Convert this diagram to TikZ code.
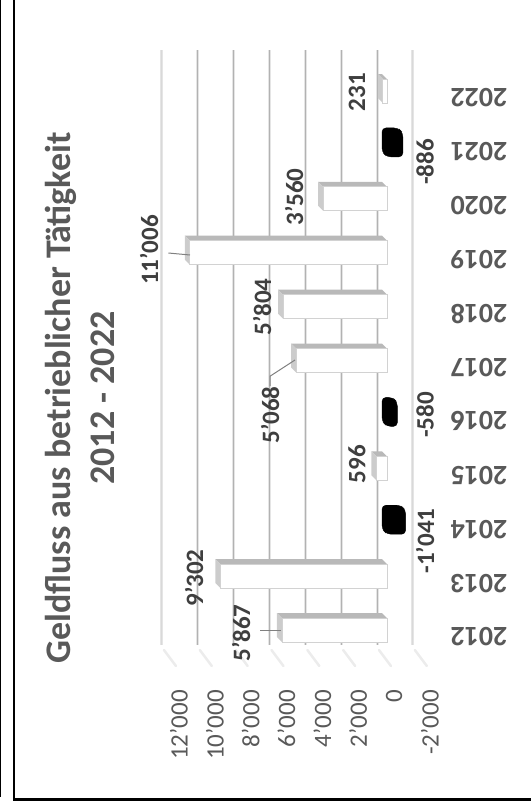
\documentclass[tikz,border=0pt]{standalone}
\usepackage{fontspec}
\setmainfont{Carlito}
\usepackage{xcolor}
\usepackage{tikz}

\definecolor{txtgray}{HTML}{595959}
\definecolor{valgray}{HTML}{3F3F3F}

\tikzset{
  titlelbl/.style={font=\fontsize{36}{44}\selectfont\bfseries, text=txtgray, rotate=90, align=center},
  yearlbl/.style={font=\fontsize{28}{30}\selectfont\bfseries, text=txtgray, rotate=180, inner sep=0pt},
  axislbl/.style={font=\fontsize{25}{27}\selectfont, text=txtgray, rotate=90, anchor=east, inner sep=0pt},
  vallbl/.style={font=\fontsize{25}{27}\selectfont\bfseries, text=valgray, rotate=90, inner sep=0pt},
  barfront/.style={fill=white, draw=gray!35, line width=0.8pt},
  barside/.style={fill=gray!55},
  barend/.style={fill=gray!40},
  negbar/.style={fill=black, draw=black, rounded corners=4pt},
  leader/.style={draw=gray, line width=1pt},
}

\begin{document}
\begin{tikzpicture}[x=1pt,y=-1pt]
				\useasboundingbox (0,0) rectangle (531,804);
				
				% 边框
				\draw[line width=1pt] (0.5,0) -- (0.5,797);
				\draw[line width=2.6pt] (14,0) -- (14,799.5) -- (531,799.5);
				
				% 标题
				\node[titlelbl] (title) at (80,398) {Geldfluss aus betrieblicher Tätigkeit\\2012 - 2022};
				
				% 网格线 und Achse
				\foreach \v/\t in {12/12'000,10/10'000,8/8'000,6/6'000,4/4'000,2/2'000,0/0,-2/-2'000} {
					\pgfmathsetmacro\xg{377-\v*17.92}
					\draw[gray!20, line width=3pt] (\xg,50) -- (\xg,645);
					\ifnum\v=12
					\draw[gray!30, line width=1pt] (\xg,50) -- (\xg,645);
					\else
					\ifnum\v=-2
					\draw[gray!30, line width=1pt] (\xg,50) -- (\xg,645);
					\else
					\draw[gray!60, line width=1pt] (\xg,50) -- (\xg,645);
					\fi
					\fi
					\draw[gray!15, line width=2.5pt, line cap=round] (\xg+2,650) -- (\xg+14,666);
					\node[axislbl] (ax\v) at (\xg+17,690) {\t};
				}
				
				% 柱
				\foreach \i/\v in {0/5867,1/9302,2/-1041,3/596,4/-580,5/5068,6/5804,7/11006,8/3560,9/-886,10/231} {
					\pgfmathsetmacro\xl{387-\v*0.01792}
					\pgfmathsetmacro\yc{630-53.9*\i}
					\ifnum\v<0
					\fill[negbar] (382,\yc-17) -- (\xl-5,\yc-17) -- (\xl,\yc-12) -- (\xl,\yc+12) -- (387,\yc+12) -- (382,\yc+7) -- cycle;
					\else
					\fill[barside] (\xl-5,\yc-17) -- (382,\yc-17) -- (387,\yc-12) -- (\xl,\yc-12) -- cycle;
					\fill[barend] (\xl-5,\yc-17) -- (\xl,\yc-12) -- (\xl,\yc+12) -- (\xl-5,\yc+7) -- cycle;
					\filldraw[barfront] (\xl,\yc-12) rectangle (387,\yc+12);
					\fi
					\pgfmathtruncatemacro\yr{2012+\i}
					\node[yearlbl] (yr\yr) at (479,637-53.9*\i) {\yr};
				}
				
				% Werte
				\node[vallbl] (v2012) at (241,633) {5'867};
				\node[vallbl] (v2013) at (194,578) {9'302};
				\node[vallbl] (v2014) at (425,541) {-1'041};
				\node[vallbl] (v2015) at (357,464) {596};
				\node[vallbl] (v2016) at (425,415) {-580};
				\node[vallbl] (v2017) at (270,415) {5'068};
				\node[vallbl] (v2018) at (262,307) {5'804};
				\node[vallbl] (v2019) at (149,250) {11'006};
				\node[vallbl] (v2020) at (294,197) {3'560};
				\node[vallbl] (v2021) at (425,162) {-886};
				\node[vallbl] (v2022) at (357,92) {231};
				
				% 引线
				\coordinate (b2012) at (281,630);
				\coordinate (b2017) at (295,360);
				\coordinate (b2019) at (190,255);
				\draw[leader] (v2012.south) ++(10,-3) coordinate (l2012) -- (b2012);
				\draw[leader] (v2017.east) -- ++(0,-10) -- (b2017);
				\draw[leader] (v2019.south) ++(10,3) coordinate (l2019) -- (b2019);
				
\end{tikzpicture}
\end{document}
